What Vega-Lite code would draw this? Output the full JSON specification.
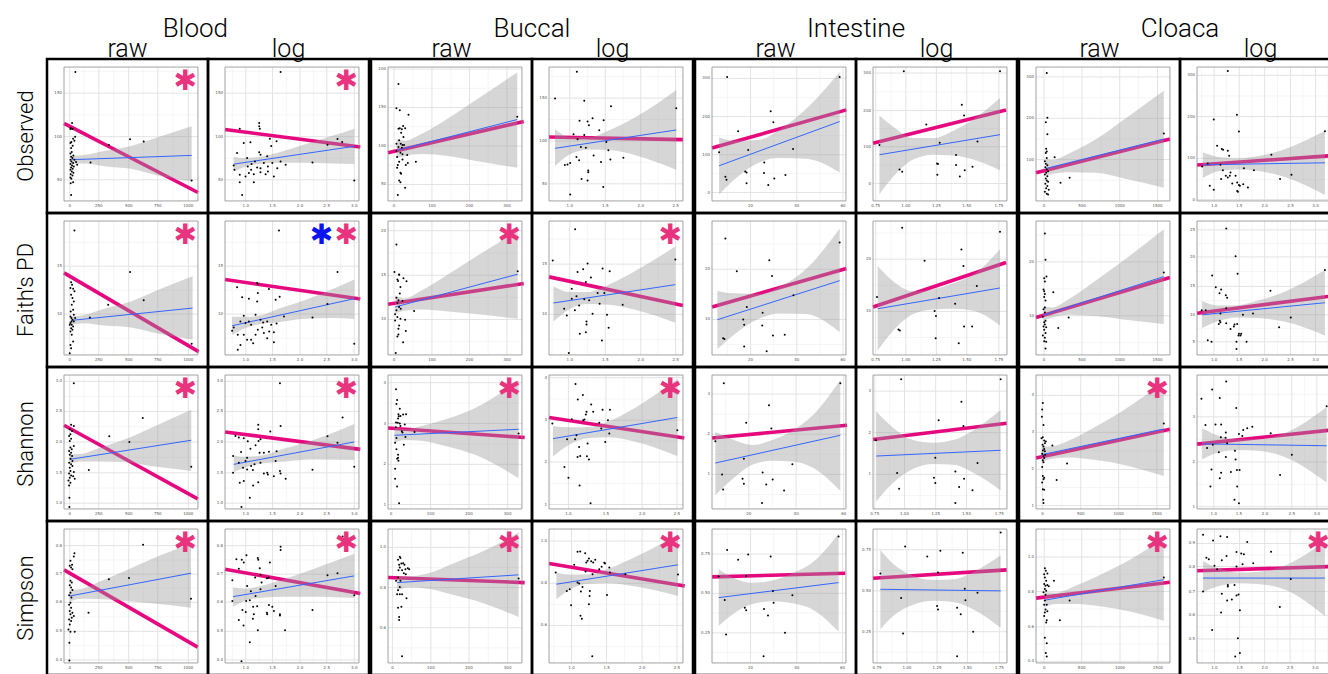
{
"$schema":"https://vega.github.io/schema/vega-lite/v6.json",
"padding":{"left":14,"top":16,"right":0,"bottom":0},
"background":"white",
"spacing":-2,
"config":{
"view":{"stroke":"black","strokeWidth":2.5},
"mark":{"invalid":"break-paths-show-domains"},
"header":{"labelFont":"Roboto","titleFont":"Roboto","labelFontSize":25,"titleFontSize":26,"labelFontWeight":300,"titleFontWeight":300,"labelColor":"black","titleColor":"black"},
"headerColumn":{"titlePadding":-15,"labelPadding":-3},
"headerRow":{"labelFontSize":22,"labelPadding":9},
"text":{"font":"DejaVu Sans"}
},
"datasets":{"d":[
{"t":"Blood","s":"raw","m":"Observed","st":["p"],
"px":[8.5,6,5,6.3,4.8,8.3,6.8,5.5,7.8,4.8,6.5,5.3,5.8,4.8,7,5.3,6.3,4.8,7.8,5.5,6.8,4.8,6,7.3,5.3,6.5,4.8,5.8,7,5,6.3,4.8,5.5,6.8,5,5.3,9,9.8,19.8,33.5,49.3,59.5,95.3],
"py":[96.3,58.3,54.5,53.8,53.8,48,46.5,44,45,43.3,41.3,39.5,36.5,35.5,34,33,32,30.8,30.8,29.5,28.3,27.5,26.5,25.8,25,24,23.3,22,21,20,19,17.5,16.5,14,13.3,4.5,29,27,28.8,41.8,46,44.3,15.3],
"bx":[5.5,15,30,50,70,95.3],"blo":[27.5,28,26,24,19,14.5],"bhi":[33.8,34.3,37.3,41,47.5,55.8],
"fx":[5.5,95.3],"fy":[30.8,34],"kx":[0,100],"ky":[58,6.3],
"xt":[4.3,26,48.3,70,92.8],"xl":["0","250","500","750","1000"],"gx":[15.1,37.1,59.1,81.4],
"yt":[15.8,48,80.5],"yl":["50","100","150"],"gy":[31.9,64.3,96.8]},
{"t":"Blood","s":"log","m":"Observed","st":["p"],
"px":[41.5,11,25.5,25.5,26,84,87.5,76.5,33.5,19,14,34.5,38.5,9,25.5,26.5,31.5,16.5,22.3,19.8,17,24,29,35.3,41.5,45.3,39,32,6.5,7,11,15.3,11,17.8,21.5,26.5,32,36.5,21.5,12.8,30.3,65.3,96.5,26.5,19.5],
"py":[96.3,54,58.3,55.8,54,46.3,44,42,46.5,43.8,43.3,41,44.5,35.8,36.3,34.5,33.3,32,29.5,27.5,25.8,25,28.3,28.3,29.5,27,24.5,25.8,26.5,23.3,19.5,18.3,14,20.8,20,21.5,22,18.3,14,4.5,20,28.8,15.3,24.5,23.3],
"bx":[6.5,15,25,40,60,80,96.5],"blo":[22,25.5,27.6,28.6,28.5,28,27.5],"bhi":[33,32,32.8,36.2,42.3,48.6,54],
"fx":[6.5,96.5],"fy":[27.5,40.8],"kx":[0,101],"ky":[53.4,40.3],
"xt":[15.5,35.5,56,76,96.5],"xl":["1.0","1.5","2.0","2.5","3.0"],"gx":[5.5,25.5,45.8,66,86.3],
"yt":[15.8,48,80.5],"yl":["50","100","150"],"gy":[31.9,64.3,96.8]},
{"t":"Blood","s":"raw","m":"Faith's PD","st":["p"],
"px":[7.8,5.3,6,6.8,4.8,7.8,5.3,6.3,7.3,5.8,6.8,5,4.8,5.5,6.3,7.3,4.8,5.8,6.8,5.3,6.3,4.8,5.8,6.8,4.8,5.3,4.3,5.5,4.3,7.3,8.3,19.3,33,49.3,59.5,95.3],
"py":[93,54.3,52.5,49.5,50,47.5,45,42.5,40,37.5,33.8,32.5,28.8,27.5,26.3,25,23.8,22.5,21.3,20,18.8,17.5,15,10,7.5,5,1.3,25,22.5,30,27.5,28,37.5,62,40.8,8.3],
"bx":[5.5,15,30,50,70,96],"blo":[22.8,23.7,22,20.5,16,11.3],"bhi":[28.7,29.9,34.5,40,48.5,58.8],
"fx":[5.5,96],"fy":[25.8,35],"kx":[0,100.5],"ky":[61.3,2.5],
"xt":[4.3,26,48.3,70,92.8],"xl":["0","250","500","750","1000"],"gx":[15.1,37.1,59.1,81.4],
"yt":[30.5,66.3],"yl":["10","15"],"gy":[12.6,48.4,84.1]},
{"t":"Blood","s":"log","m":"Faith's PD","st":["bp"],
"px":[40.3,9,24,24.5,32.8,12.8,17.8,24.5,24,37.8,40.8,84,76.5,65.3,14,11.5,15.3,19.5,26.5,28.5,31.5,34.5,38.5,44,6.5,5.3,9.5,14,16.5,19.5,22.8,24.5,27.8,29,33,36.5,11.5,9.5,36.5,21,31.5,96.5,17.8,22.8],
"py":[93,50.5,53.8,53,49.3,43,42,46.3,40,41.3,43.5,62,38,28,29.3,25,23.8,22.5,26.3,24.3,25,22.5,23.5,28.8,20.5,18,15,15,11.3,11.3,15,18.8,20.5,16.3,17.5,17,7.5,3.8,9.5,8.8,12.5,8.3,25,30],
"bx":[5.3,15,25,40,60,80,96.5],"blo":[15,20,23,24.5,27,27.5,26.8],"bhi":[28.5,28.5,29.2,34.5,41,49,56.3],
"fx":[5.3,96.5],"fy":[21.8,42],"kx":[0,101],"ky":[56.3,41.8],
"xt":[15.5,35.5,56,76,96.5],"xl":["1.0","1.5","2.0","2.5","3.0"],"gx":[5.5,25.5,45.8,66,86.3],
"yt":[30.5,66.3],"yl":["10","15"],"gy":[12.6,48.4,84.1]},
{"t":"Blood","s":"raw","m":"Shannon","st":["p"],
"px":[7.3,5.3,7.3,4.3,6,4.8,3.8,5.3,4.3,4.8,5.8,3.8,5.3,4.3,6,4.8,3.8,5.3,4.3,6.3,4.8,7.3,3.8,5.3,4.3,6.8,8,3.3,4.8,3.8,4,4,6.3,7.3,18.5,33.8,48.8,58.8,95],
"py":[93.8,62.8,62,59.5,58.3,55.8,54.5,52.5,50.8,45.8,44.5,43.3,42,40.5,39.5,37.5,34.5,33.3,30.8,32,28.3,27.5,26.5,25,23.3,24.5,22.5,21.3,19.5,17.5,8.3,1.5,35.8,47,29,54.3,50,68,31.5],
"bx":[4.3,12,25,45,65,95],"blo":[34,35.5,35.5,35,32,28.3],"bhi":[40.8,41,45,51.8,60.5,74],
"fx":[4.3,95],"fy":[37,51.3],"kx":[0,99.8],"ky":[62.5,7.5],
"xt":[4.3,26,48.3,70,92.8],"xl":["0","250","500","750","1000"],"gx":[15.1,37.1,59.1,81.4],
"yt":[4.3,27,50,72.8,95.3],"yl":["1.0","1.5","2.0","2.5","3.0"],"gy":[15.6,38.5,61.4,84]},
{"t":"Blood","s":"log","m":"Shannon","st":["p"],
"px":[41,87.8,41.5,24.8,33.8,24.8,7.8,14,10.3,17,25,26.5,22.8,19,25.8,29,32.8,38.5,12,6,16.5,15.3,10.3,19.5,22,26.5,37.8,76.5,84,65.3,96.5,6,13.5,16.5,20.8,29,32,36.5,41.5,41,45.3,11,14,21,24.8,31.5,12.3,18.5],
"py":[93.8,68.3,62,62.8,57.8,59.5,54.5,52.8,53.3,50.5,50.8,52,47.5,45,42,42,42.8,43,42.5,39.5,38.3,35.8,34.5,32,33.3,34.5,35.8,54.3,49.5,29.3,31.5,27,30.8,29.5,29,26.5,25.8,24.5,26.5,28.3,22.5,19.5,20.8,17.5,20,27,1.5,8.3],
"bx":[6.5,15,25,45,65,96.5],"blo":[27.5,31,33.5,35.5,37,36.5],"bhi":[40,39,39.5,45.3,51.2,63.5],
"fx":[6.5,96.5],"fy":[33.3,50],"kx":[0,101],"ky":[57.5,44.5],
"xt":[15.5,35.5,56,76,96.5],"xl":["1.0","1.5","2.0","2.5","3.0"],"gx":[5.5,25.5,45.8,66,86.3],
"yt":[4.3,27,50,72.8,95.3],"yl":["1.0","1.5","2.0","2.5","3.0"],"gy":[15.6,38.5,61.4,84]},
{"t":"Blood","s":"raw","m":"Simpson","st":["p"],
"px":[59,7.8,7.3,4.8,6,4.3,5.3,6.3,4.8,5.8,4.3,5.3,6.3,4.8,3.8,5.5,4.8,3.8,5.3,4.3,6.3,4.8,7.3,3.8,5.3,4.3,3.3,4.8,8,4,4,5.8,18.3,33.5,48.5,94.8],
"py":[88.3,82,79.5,76.3,73.3,72.5,71.3,70,61.3,60,58,56.3,54.5,52.5,50.5,48.8,45,43.5,41.3,38.8,37.5,36.3,35,32.5,31.3,28.8,25,23.3,23.3,15,1.8,33.8,37.5,62.5,63.5,48],
"bx":[4.3,12,25,45,65,94.8],"blo":[45.5,48,47.8,46.5,44.5,41.3],"bhi":[54.5,55,60,68.5,77.5,88.8],
"fx":[4.3,94.8],"fy":[50,67],"kx":[0,99.8],"ky":[69.5,11.8],
"xt":[4.3,26,48.3,70,92.8],"xl":["0","250","500","750","1000"],"gx":[15.1,37.1,59.1,81.4],
"yt":[2.3,23.6,45.3,66.3,87.6],"yl":["0.4","0.5","0.6","0.7","0.8"],"gy":[12.9,34.4,55.8,76.9,98.3]},
{"t":"Blood","s":"log","m":"Simpson","st":["p"],
"px":[87.8,41.5,41.5,8.5,12.5,16,10.3,14,24.5,24.8,26,33.5,5.5,22.5,26.5,31.3,32.5,27.3,26.5,16.5,19.3,22.8,18.5,15.8,13,15.5,21,24,21.5,20.8,31.3,31.5,32.8,35.3,36.5,41,41,37.8,44.8,24.5,10.3,13.8,18.5,12.3,5.5,65.3,76.5,84,96.5],
"py":[94.5,86.8,84.3,77.5,77,80.5,70.3,75,78.3,77,70.8,75,61.8,63.8,65.8,63.3,63.8,60,55,57.5,53.5,50,46.8,46.3,39.5,38,42,42.3,36.3,33,37.5,36.3,43.3,42,38.8,36.3,35.5,57.5,24.5,24.5,32,28,15.5,1.3,46.3,39.5,65.5,67,50.5],
"bx":[6,15,25,45,65,96.5],"blo":[42,46.5,48.5,49.5,49.5,48.5],"bhi":[56.3,55.5,57,62.9,69.7,81.5],
"fx":[6,96.5],"fy":[49.5,65],"kx":[0,101],"ky":[70,51.8],
"xt":[15.5,35.5,56,76,96.5],"xl":["1.0","1.5","2.0","2.5","3.0"],"gx":[5.5,25.5,45.8,66,86.3],
"yt":[2.3,23.6,45.3,66.3,87.6],"yl":["0.4","0.5","0.6","0.7","0.8"],"gy":[12.9,34.4,55.8,76.9,98.3]},
{"t":"Buccal","s":"raw","m":"Observed","st":[""],
"px":[7.8,6.3,8.8,15.3,8.8,10.3,7.8,11.3,12.8,9.8,11.5,8.3,6.3,10.8,9.5,12,7.8,10.3,9.3,6.8,14.3,10.8,8.3,13.3,14.8,7.3,6.8,9.3,9.8,8.3,9.3,12.8,7.3,20.8,96.5,10.8,6.3],
"py":[87.3,69.3,67.8,64.3,54.3,53.5,54,56,54.3,51,47.8,45.3,42.8,41.8,42.8,41.8,40.3,39.8,36,32.8,34.3,31,29.3,26.8,28.3,26.8,24.8,21,20.3,15.3,14,9.8,4.5,29.3,62.8,34.8,37.3],
"bx":[6.3,12,25,45,65,96.5],"blo":[31.8,33.5,35,33.5,30,24.8],"bhi":[46,44.9,50,61.7,75,96],
"fx":[6.3,96.5],"fy":[37.8,60.8],"kx":[0,101.3],"ky":[36,59.3],
"xt":[4.5,32.8,60.8,88.8],"xl":["0","100","200","300"],"gx":[18.6,46.8,74.8],
"yt":[12.3,41,69.8,98.5],"yl":["50","100","150","200"],"gy":[26.6,55.4,84.1]},
{"t":"Buccal","s":"log","m":"Observed","st":[""],
"px":[20.8,4.5,26.3,46.3,95,22.8,28.8,32.5,40.8,29.8,37.5,18.3,21.3,26.3,42.8,23.8,27.5,44.3,33.3,20.5,22.5,13.8,15.8,38.8,45.8,55.5,29.3,29.3,24.3,28.8,40.5,15.8,11.8],
"py":[96.5,76.5,74.8,70.8,69.3,59.8,59.3,61.8,60.3,56.5,52.8,49.8,46,49.3,44,40.3,39.8,37.8,34,32.8,30.3,27.3,28.3,29,31,32.3,22.8,21.5,16.3,15.3,10.5,4.8,26.8],
"bx":[4.5,15,30,45,65,95],"blo":[26,34.5,38.5,38,34,23.3],"bhi":[53.5,48,47.7,52.8,62.8,82.8],
"fx":[4.5,95],"fy":[39.3,53],"kx":[0,100],"ky":[47.8,45.8],
"xt":[15.5,42,68.5,94.5],"xl":["1.0","1.5","2.0","2.5"],"gx":[2.3,28.8,55.3,81.5],
"yt":[12.8,44.8,76.8],"yl":["50","100","150"],"gy":[28.8,60.8,92.8]},
{"t":"Buccal","s":"raw","m":"Faith's PD","st":["p"],
"px":[6.3,4.8,8.3,7,7.5,8.3,11.5,13.8,9.3,8.8,6.3,7.8,7,8.3,6.3,9.5,10.8,19.5,5.3,7,9.3,12.8,5.3,8.3,7.8,13.3,7.8,7,11.3,5.8,96.8],
"py":[82.5,62,60,56.3,55.3,59.8,57.3,55,50.8,45.8,42.8,40.8,38.8,35.8,33.3,34.5,40.3,32.8,30.3,28.3,27,26.3,25.8,22,19.5,17.8,15.3,13.8,9.5,1.5,62.5],
"bx":[5.3,12,25,45,65,96.8],"blo":[30.8,33,34,32.5,30.5,27],"bhi":[44.5,42.2,48.2,60.3,73,92.8],
"fx":[5.3,96.8],"fy":[35.8,60.3],"kx":[0,101.3],"ky":[37.8,53.3],
"xt":[4.5,32.8,60.8,88.8],"xl":["0","100","200","300"],"gx":[18.6,46.8,74.8],
"yt":[26.5,59.5,92.8],"yl":["10","15","20"],"gy":[10,43,76.1]},
{"t":"Buccal","s":"log","m":"Faith's PD","st":["p"],
"px":[19.5,2.8,25.5,21.3,28.8,31.3,40,45.3,94.3,27.5,17,36.3,41.3,20.5,26.3,22.5,30,37.8,55,11.3,19.3,13.3,32.5,43.3,44.5,28,28,23,27.5,39.5,14.8,17],
"py":[93.8,70.5,64,62,68.3,57.8,64.5,62.5,71.3,54.5,49.5,46.3,46.3,43.8,41.5,37,40.8,38.3,37.5,34.5,33.3,29.5,30.8,30,20.3,25,22.8,15.8,17,10.8,1.5,42],
"bx":[3.3,15,28,45,65,94.3],"blo":[25,34,38,37.5,33.5,24],"bhi":[51.3,47,47,52.7,63,81],
"fx":[3.3,94.3],"fy":[38.8,52.5],"kx":[0,100],"ky":[58.3,37],
"xt":[15.5,42,68.5,94.5],"xl":["1.0","1.5","2.0","2.5"],"gx":[2.3,28.8,55.3,81.5],
"yt":[30.3,67.8],"yl":["10","15"],"gy":[11.5,49,86.5]},
{"t":"Buccal","s":"raw","m":"Shannon","st":["p"],
"px":[6,6.8,6.3,8.8,7.8,8,9.3,11.3,13.5,7.5,6,7.3,8.8,12.5,9.3,5.8,10.3,10.8,13,6.3,11.8,5.3,6.3,7.5,6.8,7.5,7.8,5.3,5.3,6.8,8.3,19.8,97.5],
"py":[89.3,81.3,78.3,74.8,70.8,69.3,69.5,70.5,70.8,67.5,64.5,64.3,63.8,63,62,61,58,57,53.8,53,48,49.5,44.5,40.5,37.5,38.3,36,30,22.5,16.8,4.3,57.5,56.3],
"bx":[4.8,12,25,45,65,97.5],"blo":[49.3,51.5,51,46.5,40.5,23],"bhi":[61.3,59.5,62,67.5,75.3,96.3],
"fx":[4.8,97.5],"fy":[55,59.5],"kx":[0,102],"ky":[60.5,53.3],
"xt":[2.3,31.8,60.5,89.3],"xl":["0","100","200","300"],"gx":[17,46.2,74.9],
"yt":[3.3,33.3,63.8,94.3],"yl":["1","2","3","4"],"gy":[18.3,48.5,79]},
{"t":"Buccal","s":"log","m":"Shannon","st":["p"],
"px":[19.8,21.5,25.3,31.5,33,28,27.5,26.5,25.5,17,40,45.5,44,37.5,39,45,42,2.5,13.5,19.5,20.5,22.5,21.3,23.3,28.3,29.8,28.8,11.5,14.5,22.8,31,95.8],
"py":[93.3,81.8,85,78,72.5,72.5,70.5,66.8,66.3,67,74,74,66.3,64.3,60,56.3,50,63.8,52,52,55,46.3,38.8,39.5,39.3,37,48.8,31.3,23.3,17.5,4.3,58.8],
"bx":[3,15,30,45,65,95.8],"blo":[39.3,48,53,53.5,50,39.5],"bhi":[61.8,61,61.2,65.7,76,97],
"fx":[3,95.8],"fy":[52.5,68.3],"kx":[0,101],"ky":[68.3,53],
"xt":[14.5,42.5,69.5,95.5],"xl":["1.0","1.5","2.0","2.5"],"gx":[1,28.5,56,82.5],
"yt":[3.3,35,66.3,98],"yl":["1","2","3","4"],"gy":[19.1,50.6,82.1]},
{"t":"Buccal","s":"raw","m":"Simpson","st":["p"],
"px":[8.8,9.3,7.5,10,11.3,8.3,12.3,8.8,13,10.5,14.8,7.8,13.3,11.8,15.8,7.5,9.3,8.8,7.5,8.8,10.5,6.8,13.8,7.5,10,8.3,8.3,10.5,97.5,6],
"py":[79.3,78.3,77,74.3,74.5,73.3,73.3,71.3,70,69.3,70.8,69.3,66.3,67,70,63.8,61.3,56.8,54.3,51.3,51.3,51.3,48.3,41.3,42,34.3,32,5,63,61.3],
"bx":[6.8,15,30,50,70,97.5],"blo":[53.8,56.5,55.5,50.5,45,34.3],"bhi":[65,64.5,67,74.9,83,97.5],
"fx":[6.8,97.5],"fy":[60,65.8],"kx":[0,102],"ky":[63.8,60],
"xt":[3.3,32,60.5,89.3],"xl":["0","100","200","300"],"gx":[17.6,46.2,74.9],
"yt":[26.3,56.3,86.3],"yl":["0.6","0.8","1.0"],"gy":[11.3,41.3,71.3]},
{"t":"Buccal","s":"log","m":"Simpson","st":["p"],
"px":[5,18.8,21.3,23.3,27,27.8,28.8,29.8,31.5,33,34.5,37.5,39.3,41.3,41.8,45,45.5,27.3,32.5,21.3,22.5,25,13.3,15.5,23.8,30.5,30.3,16.5,43.3,29.8,23.5,24.5,32.3,96.3,57],
"py":[67.5,73.3,83,83.3,82,75,76.3,78,76,75,77,70,71.8,74.8,74.3,71.3,67.5,68.3,66.3,60,59.3,56.8,53.8,55,53.3,53.8,50,43,50.8,43.8,35.3,33,5,66,66.3],
"bx":[5.5,15,30,45,65,96.3],"blo":[47.5,54.5,59.2,59.5,57,50],"bhi":[67.5,66,66.2,70.7,79.5,96],
"fx":[5.5,96.3],"fy":[58.8,73.3],"kx":[0,101.3],"ky":[74.3,57.5],
"xt":[16.8,43,69.5,95.5],"xl":["1.0","1.5","2.0","2.5"],"gx":[3.5,29.9,56.3,82.5],
"yt":[28,59.5,91],"yl":["0.6","0.8","1.0"],"gy":[12.3,43.8,75.3]},
{"t":"Intestine","s":"raw","m":"Observed","st":[""],
"px":[11.3,95.3,43.8,45.8,19.5,27,5.3,60.5,39,24.8,25.8,10,10.8,38.8,54.8,46.5,25.8,42],
"py":[92.5,92.5,67,58.8,52,38,36.3,38.8,28.8,22,21.3,18,15.8,20.8,19.3,16.8,13.3,12],
"bx":[5.3,15,35,50,70,95.3],"blo":[5,14.5,28.6,32,31.5,21.3],"bhi":[47.5,45,45.6,53,68.5,96.3],
"fx":[5.3,95.3],"fy":[26.3,59.3],"kx":[0,100.3],"ky":[39.5,68],
"xt":[28.8,63.3,97.8],"xl":["20","40","60"],"gx":[11.5,46,80.5],
"yt":[6.3,34.5,63,91.5],"yl":["0","100","200","300"],"gy":[20.4,48.8,77.3]},
{"t":"Intestine","s":"log","m":"Observed","st":[""],
"px":[23,94.8,66.3,68,39.8,78,4.8,49.8,62,19.8,21.8,47.8,48.5,62,74.3,68.5,48,64.8],
"py":[96.8,96.8,71.8,63.8,57,44.3,41.8,43.5,34.3,23.5,21.8,28,27.5,26.8,25.5,23,19.5,18.3],
"bx":[4.8,15,30,45,60,75,94.8],"blo":[5,18,31,34.5,34,31,23],"bhi":[63.8,55.5,47,47,52.5,61,76.8],
"fx":[4.8,94.8],"fy":[34.5,49.5],"kx":[0,99.3],"ky":[43,68],
"xt":[2,24.5,47.3,70,94],"xl":["0.75","1.00","1.25","1.50","1.75"],"gx":[13.3,35.9,58.6,82],
"yt":[13,40.5,67.5,95.5],"yl":["0","100","200","300"],"gy":[26.8,54,81.5]},
{"t":"Intestine","s":"raw","m":"Faith's PD","st":[""],
"px":[10,95.3,42.8,44.8,18.5,26,60.8,37.8,23.3,24,8.3,9.3,37.5,45.5,54.3,24,40.8],
"py":[87,84,70.8,59,62.5,35.8,44.5,31.5,26.5,22.5,12.5,12,22,14.5,15,6.3,2.8],
"bx":[4,15,35,50,70,95.3],"blo":[4.5,14,27,31,30.5,17],"bhi":[48,46,45.5,50.5,64,94.5],
"fx":[4,95.3],"fy":[26.3,55.5],"kx":[0,100.3],"ky":[35.8,64.5],
"xt":[28.8,63.3,97.8],"xl":["20","40","60"],"gx":[11.5,46,80.5],
"yt":[26.5,64],"yl":["10","20"],"gy":[7.8,45.3,82.8]},
{"t":"Intestine","s":"log","m":"Faith's PD","st":[""],
"px":[21.8,94.8,66,67.5,38.5,77.5,3,49.3,61.3,46,47,68,74,19,20,46.8,64],
"py":[95,92,78.8,66.5,70.3,51.5,43.3,42.5,38.3,32.8,29,21.3,21.3,19,18.3,12.5,8.8],
"bx":[3.5,15,30,45,60,75,94.8],"blo":[3.3,18,30.5,34,34.5,33,22],"bhi":[66.5,55,47.5,49,53.5,60,79],
"fx":[3.5,94.8],"fy":[34.5,50],"kx":[0,99.3],"ky":[35.8,69],
"xt":[2,24.5,47.3,70,94],"xl":["0.75","1.00","1.25","1.50","1.75"],"gx":[13.3,35.9,58.6,82],
"yt":[32.5,71.5],"yl":["10","20"],"gy":[13,52,91]},
{"t":"Intestine","s":"raw","m":"Shannon","st":[""],
"px":[8.8,95.8,42.5,25.5,44.3,2.5,23.8,60,37.8,7.5,22.8,23.8,45.3,40.5,8.3,53.8,37.3],
"py":[93.8,93.8,77.5,64.3,60,50.5,37.5,33.3,27.3,25.8,22.5,18.8,22,18.3,14.5,13.8,4.5],
"bx":[2.5,15,30,45,60,75,95.8],"blo":[10.5,22,33,36,35.5,31,13.5],"bhi":[57.5,52,47.8,51.4,58.5,69.8,96.3],
"fx":[2.5,95.8],"fy":[34.3,55],"kx":[0,100.8],"ky":[53,62.5],
"xt":[27.5,62.8,98.3],"xl":["20","40","60"],"gx":[10,45.1,80.5],
"yt":[25.8,55.8,85.8],"yl":["1","2","3"],"gy":[10.8,40.8,70.8]},
{"t":"Intestine","s":"log","m":"Shannon","st":[""],
"px":[21,95.3,66,49,67.5,2.3,46.5,78,18,61.5,45.5,68,46.5,64.3,19.5,74.3,61.5],
"py":[96.8,96.8,80,66.3,62,51.3,38.3,34.3,26.8,28,23.3,22.5,19.3,16.3,15,14,4.5],
"bx":[2.3,15,30,45,60,75,95.3],"blo":[5.5,19.5,30,33.5,33,27,13.8],"bhi":[73,60.7,51.5,49.5,51.4,58.8,73.8],
"fx":[2.3,95.3],"fy":[39.5,43.8],"kx":[0,99.8],"ky":[51.8,64],
"xt":[1.3,23.5,46.8,69.8,94.3],"xl":["0.75","1.00","1.25","1.50","1.75"],"gx":[12.4,35.2,58.3,82],
"yt":[25.8,57,88],"yl":["1","2","3"],"gy":[10.1,41.4,72.5]},
{"t":"Intestine","s":"raw","m":"Simpson","st":[""],
"px":[11.3,94.5,27,19.5,43.8,5,25.5,45.5,9.5,60,46,24.5,25.5,38.8,41.8,10.5,54.5,38.5],
"py":[84.3,94.5,81,77,79.5,64.5,65,53.8,47,50.5,45,41.3,39.3,40.3,35.5,21.3,22.5,5],
"bx":[5,15,30,45,60,75,94.5],"blo":[27.5,36,44,46,44.5,40,23.5],"bhi":[70,64,59.8,61.5,66.9,75,96.5],
"fx":[5,94.5],"fy":[48.8,60],"kx":[0,99.5],"ky":[64.3,67],
"xt":[28.8,63.3,97.5],"xl":["20","40","60"],"gx":[11.5,46,80.4],
"yt":[22.5,52,81.3],"yl":["0.25","0.50","0.75"],"gy":[7.8,37.3,66.6,96]},
{"t":"Intestine","s":"log","m":"Simpson","st":[""],
"px":[95.3,24,50.3,67,40.5,5.5,48.5,68.5,21,69,78,47.8,48.5,62.8,65.5,22.5,74.8,62.8],
"py":[97.5,87,83.8,82.3,79.5,66.8,67.5,55.5,48.5,46.8,52.5,42.5,40,41.3,36.3,22,23.3,5],
"bx":[5.5,15,30,45,60,75,95.3],"blo":[25,35,43.5,46.5,45.5,40,26.3],"bhi":[84.3,74,65,62,62.5,68,80.5],
"fx":[5.5,95.3],"fy":[55,53.8],"kx":[0,99.8],"ky":[63.3,69.5],
"xt":[3,25.3,47.8,70.5,94.3],"xl":["0.75","1.00","1.25","1.50","1.75"],"gx":[14.1,36.5,59.1,82.4],
"yt":[23.3,53.8,84.5],"yl":["0.25","0.50","0.75"],"gy":[8,38.5,69.1]},
{"t":"Cloaca","s":"raw","m":"Observed","st":[""],
"px":[8,8.5,7.3,8.5,7.6,8,7.3,8,13.9,7.3,8.5,7,8,9,7.6,6.6,8.5,7.3,8,9,7,8.5,7.6,9.5,6.6,8,9,6.6,18.3,25.1,95.4],
"py":[95.5,62.2,58.8,49.9,39,37,35.8,32.1,32.6,27.7,26.7,25.2,23.5,22.2,21,19.8,18.5,16.8,15.3,14.3,12.8,11.1,9.4,8.4,6.9,5.4,4.9,29.6,13.6,17.3,50.4],
"bx":[7.3,12,25,45,65,95.4],"blo":[18.5,20.2,21.5,21,17,9.9],"bhi":[31.6,30.6,35.7,46.2,60.2,82.2],
"fx":[7.3,95.4],"fy":[24.2,46.2],"kx":[0,100],"ky":[21,46.2],
"xt":[6,34.3,62.5,90.7],"xl":["0","500","1000","1500"],"gx":[20.2,48.4,76.6],
"yt":[30.9,61.7,92.6],"yl":["100","200","300"],"gy":[15.5,46.3,77.2]},
{"t":"Cloaca","s":"log","m":"Observed","st":[""],
"px":[23,29.8,12.5,31.3,15,18.5,19.5,23,24,3.8,8,17.5,19.3,18,23,24.5,28.8,30,31.3,32,34.5,30,30.5,38,26.3,9.5,12.5,35,42.5,55.5,62,70.5,95.5,25,21.5],
"py":[97,64.3,60.8,51.8,41.3,38.8,38.3,37.5,33.8,25.8,28,27,23,16.3,17.5,18.8,18.8,13.8,12,11.3,12.5,7.5,6.8,10,13,11.3,8.3,24.5,23,34.5,16.3,19.5,52,21.3,18.8],
"bx":[4.3,15,30,45,65,95.5],"blo":[17,22,23.5,22.5,18,4.5],"bhi":[36.3,33,31.7,33.3,38.5,52.5],
"fx":[4.3,95.5],"fy":[27,28.5],"kx":[0,100],"ky":[26.8,33.8],
"xt":[12.8,31.5,50.5,69.8,88.5],"xl":["1.0","1.5","2.0","2.5","3.0"],"gx":[3.4,22.1,41,60.1,79.1,97.9],
"yt":[1,31.8,63,93.8],"yl":["0","100","200","300"],"gy":[15.9,47.4,78.4]},
{"t":"Cloaca","s":"raw","m":"Faith's PD","st":[""],
"px":[6.6,7.1,6.1,6.6,5.6,6.1,6.6,6.1,7.1,5.6,6.6,5.1,7.1,6.1,6.6,5.6,7.6,6.1,7.1,5.1,6.6,6.1,7.6,7.1,7.8,12.9,16.6,24.4,95.4,6.6],
"py":[90.7,71,57.3,54.9,48.8,47.6,45.6,43.2,40.7,34.1,31.7,28.5,25.6,24.4,22.7,21.2,20.7,18.8,16.3,14.6,12.9,10.2,9.8,4.9,58.5,46.8,20.2,28,61.5,35.4],
"bx":[5.6,12,25,45,65,95.4],"blo":[25.6,28,30,29,26.5,23.2],"bhi":[36.6,35.5,42,55.8,70.3,93.9],
"fx":[5.6,95.4],"fy":[29.8,58.5],"kx":[0,100],"ky":[28,57.8],
"xt":[6,34.3,62.5,90.7],"xl":["0","500","1000","1500"],"gx":[20.2,48.4,76.6],
"yt":[29.3,69.5],"yl":["10","20"],"gy":[9.2,49.4,89.6]},
{"t":"Cloaca","s":"log","m":"Faith's PD","st":[""],
"px":[21.8,28.8,30.3,11.3,14,18,16.8,21.5,22.5,54.8,3.5,6.5,21.8,17.5,34.3,41.8,17,16.3,17.5,21.8,25,27.5,28,30,31,31.3,32.5,33,37,29.5,29.5,8,10.8,61.3,70,95.5],
"py":[94.4,73.7,60.7,59.3,50.5,48.8,46.1,44.6,42.7,48,33.4,33.4,34.9,31,30,31,25.6,23.2,24.4,23.7,19.3,21.2,22.7,23.2,14.6,15.9,14.6,15.9,9.8,9.8,4.4,11,9.8,20.7,28,63.4],
"bx":[3.8,15,30,45,65,95.5],"blo":[20.2,25,28,27.5,25,14.6],"bhi":[40.2,37,37.2,40.5,47,63.4],
"fx":[3.8,95.5],"fy":[30,39],"kx":[0,100],"ky":[31.2,43.9],
"xt":[12.8,31.5,50.5,69.8,88.5],"xl":["1.0","1.5","2.0","2.5","3.0"],"gx":[3.4,22.1,41,60.1,79.1,97.9],
"yt":[9.8,30,51.2,73.2,93.4],"yl":["5","10","15","20","25"],"gy":[19.9,40.6,62.2,83.3]},
{"t":"Cloaca","s":"raw","m":"Shannon","st":["p"],
"px":[5.1,4.6,4.4,5.6,4.1,5.1,6.1,7.3,6.6,4.9,5.6,6.1,5.1,6.6,4.6,5.6,6.1,5.1,5.6,4.6,5.1,6.1,5.6,4.6,5.1,6.1,5.4,5.6,12.2,15.4,23.2,95.4,6.8],
"py":[79.1,74.2,68.8,62.7,52.8,53.6,51.1,50.4,49.1,47.9,46.7,44.7,43.7,43,41.3,39.3,38.1,36.4,34.9,31.4,24.6,23.3,22.1,19.7,14.7,14.3,6.9,4.4,47.4,21.6,33.9,63.9,40.5],
"bx":[4.1,12,25,45,65,95.4],"blo":[34.4,37.5,38.5,36.5,33,24.6],"bhi":[46.7,46.9,51.3,61.7,73.6,94.6],
"fx":[4.1,95.4],"fy":[40.5,59.7],"kx":[0,100],"ky":[38.1,59.5],
"xt":[4.9,33.4,61.7,90.2],"xl":["0","500","1000","1500"],"gx":[19.2,47.6,76],
"yt":[2.5,29.5,57.2,84.8],"yl":["1","2","3","4"],"gy":[16,43.4,71,98.6]},
{"t":"Cloaca","s":"log","m":"Shannon","st":[""],
"px":[21.8,11.3,3.3,17,29.3,96.8,6.3,13.8,18,34.5,37.5,41.3,55,17.8,21.3,31.3,33.8,21.5,22.5,11.8,7.5,16.3,21.5,28.3,28.8,70.8,10.8,18,25.3,29.8,31.8,62,17,10,30,28,31.3],
"py":[95.1,89.2,82.3,82.8,75.4,76.7,62.7,63.1,63.1,59,60.2,61.4,56.5,53.6,53.1,56,54.5,57,49.1,47.9,45.5,42.3,38.8,43.5,36.9,40.5,29.5,27,27.5,29,29,25.3,22.9,16.7,16.7,6.9,4.2],
"bx":[3.8,15,30,45,65,96.8],"blo":[36.9,42,44,43.5,39,19.7],"bhi":[60.2,55,52,52,56.5,76.2],
"fx":[3.8,96.8],"fy":[48.6,47.2],"kx":[0,101.3],"ky":[48.4,59],
"xt":[12.5,31.3,50.8,70.8,89.5],"xl":["1.0","1.5","2.0","2.5","3.0"],"gx":[3.1,21.9,41,60.8,80.2,99],
"yt":[1.7,35.1,68.8],"yl":["1","2","3"],"gy":[18.4,52,85.6]},
{"t":"Cloaca","s":"raw","m":"Simpson","st":["p"],
"px":[6.6,7.3,6.1,8.5,6.6,7.6,6.1,7.1,8.5,9.5,6.6,5.6,7.6,7.1,6.6,6.1,8,7.1,8.5,6.6,6.1,8,7.6,6.6,8,7.3,8,13.4,25.1,17.8,95.4],
"py":[70.8,68.8,66.3,66.8,63.9,61.4,59,57.7,58.2,57.2,55.3,52.8,54,50.9,46.7,43.5,43.5,40,38.6,37.6,35.1,31.9,30.2,18.9,14.7,7.4,4.9,61.4,46.7,31.9,63.9],
"bx":[6.6,15,30,50,70,95.4],"blo":[41.8,44,44,42,38.5,31.5],"bhi":[52.8,52.5,57.8,66.8,77,92.9],
"fx":[6.6,95.4],"fy":[46.9,62.2],"kx":[0,100],"ky":[48.4,60.2],
"xt":[6.1,34.1,62.7,91],"xl":["0","500","1000","1500"],"gx":[20.1,48.4,76.9],
"yt":[1.2,27,53.3,79.1],"yl":["0.4","0.6","0.8","1.0"],"gy":[14.1,40.2,66.2,92]},
{"t":"Cloaca","s":"log","m":"Simpson","st":["p"],
"px":[4.5,17.5,22.5,37.5,12,7,8.8,22,29.5,33,35,55.3,18.5,13,15,29.5,34,42,4.5,18.5,23,23,28,26,29.5,31,22.5,18,32,11.3,30.5,28.5,32,61.8,70,95.5],
"py":[95.8,94.6,94.1,90.4,91.4,78.6,77.4,79.9,82.8,81.8,81.1,83,76.7,72.5,70,72,73.7,74.4,53.3,51.6,58.2,57,58.2,47.4,50.4,51.1,46.7,37.6,39.3,24.6,18.4,4.9,7.4,41.8,62.7,86.5],
"bx":[4.5,15,30,45,65,95.5],"blo":[52.8,57,59.5,59,55,35],"bhi":[76.2,71,67.5,68,72.5,91],
"fx":[4.5,95.5],"fy":[63.4,63.4],"kx":[0,100],"ky":[68.8,72],
"xt":[13,31.8,50.5,69.5,88.3],"xl":["1.0","1.5","2.0","2.5","3.0"],"gx":[3.6,22.4,41.2,60,78.9,97.7],
"yt":[17.9,35.6,53.3,72,89.2],"yl":["0.5","0.6","0.7","0.8","0.9"],"gy":[9,26.8,44.5,62.7,80.6,98]}
]},
"hconcat":[
{"data":{"name":"d"},"transform":[{"filter":"datum.t==='Blood'"},{"flatten":["px","py","bx","blo","bhi","fx","fy","kx","ky","xt","xl","gx","yt","yl","gy","st"]}],
"bounds":"flush",
"facet":{"row":{"field":"m","type":"nominal","sort":["Observed","Faith's PD","Shannon","Simpson"],"title":null},
"column":{"field":"s","type":"nominal","sort":["raw","log"],"title":"Blood\u00a0\u00a0\u00a0\u00a0\u200b","header":{"labelExpr":"datum.label=='raw' ? 'raw\u00a0\u00a0\u00a0\u00a0\u200b' : 'log\u00a0\u00a0\u00a0\u00a0\u00a0\u00a0\u00a0\u200b'"}}},
"spacing":{"row":0,"column":0},
"spec":{"width":161,"height":154,"layer":[
{"mark":{"type":"rule","color":"#f0f0f0","strokeWidth":0.6},"encoding":{"x":{"field":"gx","type":"quantitative","scale":{"domain":[-12.7,107.5],"nice":false,"zero":false},"axis":null},"y":{"datum":0,"scale":{"domain":[-9,106],"nice":false,"zero":false},"axis":null},"y2":{"datum":100},"opacity":{"condition":{"test":"isValid(datum.gx)","value":1},"value":0}}},
{"mark":{"type":"rule","color":"#f0f0f0","strokeWidth":0.6},"encoding":{"y":{"field":"gy","type":"quantitative","axis":null},"x":{"datum":0,"axis":null},"x2":{"datum":100},"opacity":{"condition":{"test":"isValid(datum.gy)","value":1},"value":0}}},
{"mark":{"type":"rule","color":"#e3e3e3","strokeWidth":1},"encoding":{"x":{"field":"xt","type":"quantitative","axis":null},"y":{"datum":0,"axis":null},"y2":{"datum":100},"opacity":{"condition":{"test":"isValid(datum.xt)","value":1},"value":0}}},
{"mark":{"type":"rule","color":"#e3e3e3","strokeWidth":1},"encoding":{"y":{"field":"yt","type":"quantitative","axis":null},"x":{"datum":0,"axis":null},"x2":{"datum":100},"opacity":{"condition":{"test":"isValid(datum.yt)","value":1},"value":0}}},
{"mark":{"type":"line","color":"#e6087f","strokeWidth":3.6},"encoding":{"x":{"field":"kx","type":"quantitative","axis":null},"y":{"field":"ky","type":"quantitative","axis":null}}},
{"mark":{"type":"area","color":"#999999","opacity":0.4,"interpolate":"monotone"},"encoding":{"x":{"field":"bx","type":"quantitative","axis":null},"y":{"field":"blo","type":"quantitative","axis":null},"y2":{"field":"bhi"}}},
{"mark":{"type":"line","color":"#3366ff","strokeWidth":1},"encoding":{"x":{"field":"fx","type":"quantitative","axis":null},"y":{"field":"fy","type":"quantitative","axis":null}}},
{"mark":{"type":"circle","size":4,"color":"black"},"encoding":{"x":{"field":"px","type":"quantitative","axis":null},"y":{"field":"py","type":"quantitative","axis":null},"opacity":{"condition":{"test":"isValid(datum.px)","value":1},"value":0}}},
{"mark":{"type":"rect","filled":false,"stroke":"#8c8c8c","strokeWidth":0.8},"encoding":{"x":{"datum":0,"axis":null},"x2":{"datum":100},"y":{"datum":0,"axis":null},"y2":{"datum":100},"opacity":{"condition":{"test":"isValid(datum.st)","value":1},"value":0}}},
{"mark":{"type":"text","fontSize":4,"baseline":"top","color":"#555555"},"encoding":{"x":{"field":"xt","type":"quantitative","axis":null},"y":{"datum":-2.2,"axis":null},"text":{"field":"xl"},"opacity":{"condition":{"test":"isValid(datum.xt)","value":1},"value":0}}},
{"mark":{"type":"text","fontSize":4,"align":"right","baseline":"middle","color":"#555555"},"encoding":{"y":{"field":"yt","type":"quantitative","axis":null},"x":{"datum":-1.5,"axis":null},"text":{"field":"yl"},"opacity":{"condition":{"test":"isValid(datum.yt)","value":1},"value":0}}},
{"mark":{"type":"text","text":"✱","fontSize":28,"color":"#e8337f","baseline":"middle","align":"center"},"encoding":{"x":{"datum":90.5,"axis":null},"y":{"datum":89,"axis":null},"opacity":{"condition":{"test":"isValid(datum.st) && indexof(datum.st,'p')>=0","value":1},"value":0}}},
{"mark":{"type":"text","text":"✱","fontSize":28,"color":"#0a14f0","baseline":"middle","align":"center"},"encoding":{"x":{"datum":72,"axis":null},"y":{"datum":89,"axis":null},"opacity":{"condition":{"test":"isValid(datum.st) && indexof(datum.st,'b')>=0","value":1},"value":0}}}
]}},
{"data":{"name":"d"},"transform":[{"filter":"datum.t==='Buccal'"},{"flatten":["px","py","bx","blo","bhi","fx","fy","kx","ky","xt","xl","gx","yt","yl","gy","st"]}],
"bounds":"flush",
"facet":{"row":{"field":"m","type":"nominal","sort":["Observed","Faith's PD","Shannon","Simpson"],"title":null,"header":{"labels":false}},
"column":{"field":"s","type":"nominal","sort":["raw","log"],"title":"Buccal","header":{"labelExpr":"datum.label=='raw' ? 'raw' : 'log\u00a0\u00a0\u200b'"}}},
"spacing":{"row":0,"column":0},
"spec":{"width":161,"height":154,"layer":[
{"mark":{"type":"rule","color":"#f0f0f0","strokeWidth":0.6},"encoding":{"x":{"field":"gx","type":"quantitative","scale":{"domain":[-12.7,107.5],"nice":false,"zero":false},"axis":null},"y":{"datum":0,"scale":{"domain":[-9,106],"nice":false,"zero":false},"axis":null},"y2":{"datum":100},"opacity":{"condition":{"test":"isValid(datum.gx)","value":1},"value":0}}},
{"mark":{"type":"rule","color":"#f0f0f0","strokeWidth":0.6},"encoding":{"y":{"field":"gy","type":"quantitative","axis":null},"x":{"datum":0,"axis":null},"x2":{"datum":100},"opacity":{"condition":{"test":"isValid(datum.gy)","value":1},"value":0}}},
{"mark":{"type":"rule","color":"#e3e3e3","strokeWidth":1},"encoding":{"x":{"field":"xt","type":"quantitative","axis":null},"y":{"datum":0,"axis":null},"y2":{"datum":100},"opacity":{"condition":{"test":"isValid(datum.xt)","value":1},"value":0}}},
{"mark":{"type":"rule","color":"#e3e3e3","strokeWidth":1},"encoding":{"y":{"field":"yt","type":"quantitative","axis":null},"x":{"datum":0,"axis":null},"x2":{"datum":100},"opacity":{"condition":{"test":"isValid(datum.yt)","value":1},"value":0}}},
{"mark":{"type":"line","color":"#e6087f","strokeWidth":3.6},"encoding":{"x":{"field":"kx","type":"quantitative","axis":null},"y":{"field":"ky","type":"quantitative","axis":null}}},
{"mark":{"type":"area","color":"#999999","opacity":0.4,"interpolate":"monotone"},"encoding":{"x":{"field":"bx","type":"quantitative","axis":null},"y":{"field":"blo","type":"quantitative","axis":null},"y2":{"field":"bhi"}}},
{"mark":{"type":"line","color":"#3366ff","strokeWidth":1},"encoding":{"x":{"field":"fx","type":"quantitative","axis":null},"y":{"field":"fy","type":"quantitative","axis":null}}},
{"mark":{"type":"circle","size":4,"color":"black"},"encoding":{"x":{"field":"px","type":"quantitative","axis":null},"y":{"field":"py","type":"quantitative","axis":null},"opacity":{"condition":{"test":"isValid(datum.px)","value":1},"value":0}}},
{"mark":{"type":"rect","filled":false,"stroke":"#8c8c8c","strokeWidth":0.8},"encoding":{"x":{"datum":0,"axis":null},"x2":{"datum":100},"y":{"datum":0,"axis":null},"y2":{"datum":100},"opacity":{"condition":{"test":"isValid(datum.st)","value":1},"value":0}}},
{"mark":{"type":"text","fontSize":4,"baseline":"top","color":"#555555"},"encoding":{"x":{"field":"xt","type":"quantitative","axis":null},"y":{"datum":-2.2,"axis":null},"text":{"field":"xl"},"opacity":{"condition":{"test":"isValid(datum.xt)","value":1},"value":0}}},
{"mark":{"type":"text","fontSize":4,"align":"right","baseline":"middle","color":"#555555"},"encoding":{"y":{"field":"yt","type":"quantitative","axis":null},"x":{"datum":-1.5,"axis":null},"text":{"field":"yl"},"opacity":{"condition":{"test":"isValid(datum.yt)","value":1},"value":0}}},
{"mark":{"type":"text","text":"✱","fontSize":28,"color":"#e8337f","baseline":"middle","align":"center"},"encoding":{"x":{"datum":90.5,"axis":null},"y":{"datum":89,"axis":null},"opacity":{"condition":{"test":"isValid(datum.st) && indexof(datum.st,'p')>=0","value":1},"value":0}}}
]}},
{"data":{"name":"d"},"transform":[{"filter":"datum.t==='Intestine'"},{"flatten":["px","py","bx","blo","bhi","fx","fy","kx","ky","xt","xl","gx","yt","yl","gy","st"]}],
"bounds":"flush",
"facet":{"row":{"field":"m","type":"nominal","sort":["Observed","Faith's PD","Shannon","Simpson"],"title":null,"header":{"labels":false}},
"column":{"field":"s","type":"nominal","sort":["raw","log"],"title":"Intestine","header":{"labelExpr":"datum.label=='raw' ? 'raw' : 'log\u00a0\u00a0\u00a0\u200b'"}}},
"spacing":{"row":0,"column":0},
"spec":{"width":161,"height":154,"layer":[
{"mark":{"type":"rule","color":"#f0f0f0","strokeWidth":0.6},"encoding":{"x":{"field":"gx","type":"quantitative","scale":{"domain":[-12.7,107.5],"nice":false,"zero":false},"axis":null},"y":{"datum":0,"scale":{"domain":[-9,106],"nice":false,"zero":false},"axis":null},"y2":{"datum":100},"opacity":{"condition":{"test":"isValid(datum.gx)","value":1},"value":0}}},
{"mark":{"type":"rule","color":"#f0f0f0","strokeWidth":0.6},"encoding":{"y":{"field":"gy","type":"quantitative","axis":null},"x":{"datum":0,"axis":null},"x2":{"datum":100},"opacity":{"condition":{"test":"isValid(datum.gy)","value":1},"value":0}}},
{"mark":{"type":"rule","color":"#e3e3e3","strokeWidth":1},"encoding":{"x":{"field":"xt","type":"quantitative","axis":null},"y":{"datum":0,"axis":null},"y2":{"datum":100},"opacity":{"condition":{"test":"isValid(datum.xt)","value":1},"value":0}}},
{"mark":{"type":"rule","color":"#e3e3e3","strokeWidth":1},"encoding":{"y":{"field":"yt","type":"quantitative","axis":null},"x":{"datum":0,"axis":null},"x2":{"datum":100},"opacity":{"condition":{"test":"isValid(datum.yt)","value":1},"value":0}}},
{"mark":{"type":"line","color":"#e6087f","strokeWidth":3.6},"encoding":{"x":{"field":"kx","type":"quantitative","axis":null},"y":{"field":"ky","type":"quantitative","axis":null}}},
{"mark":{"type":"area","color":"#999999","opacity":0.4,"interpolate":"monotone"},"encoding":{"x":{"field":"bx","type":"quantitative","axis":null},"y":{"field":"blo","type":"quantitative","axis":null},"y2":{"field":"bhi"}}},
{"mark":{"type":"line","color":"#3366ff","strokeWidth":1},"encoding":{"x":{"field":"fx","type":"quantitative","axis":null},"y":{"field":"fy","type":"quantitative","axis":null}}},
{"mark":{"type":"circle","size":4,"color":"black"},"encoding":{"x":{"field":"px","type":"quantitative","axis":null},"y":{"field":"py","type":"quantitative","axis":null},"opacity":{"condition":{"test":"isValid(datum.px)","value":1},"value":0}}},
{"mark":{"type":"rect","filled":false,"stroke":"#8c8c8c","strokeWidth":0.8},"encoding":{"x":{"datum":0,"axis":null},"x2":{"datum":100},"y":{"datum":0,"axis":null},"y2":{"datum":100},"opacity":{"condition":{"test":"isValid(datum.st)","value":1},"value":0}}},
{"mark":{"type":"text","fontSize":4,"baseline":"top","color":"#555555"},"encoding":{"x":{"field":"xt","type":"quantitative","axis":null},"y":{"datum":-2.2,"axis":null},"text":{"field":"xl"},"opacity":{"condition":{"test":"isValid(datum.xt)","value":1},"value":0}}},
{"mark":{"type":"text","fontSize":4,"align":"right","baseline":"middle","color":"#555555"},"encoding":{"y":{"field":"yt","type":"quantitative","axis":null},"x":{"datum":-1.5,"axis":null},"text":{"field":"yl"},"opacity":{"condition":{"test":"isValid(datum.yt)","value":1},"value":0}}}
]}},
{"data":{"name":"d"},"transform":[{"filter":"datum.t==='Cloaca'"},{"flatten":["px","py","bx","blo","bhi","fx","fy","kx","ky","xt","xl","gx","yt","yl","gy","st"]}],
"bounds":"flush",
"facet":{"row":{"field":"m","type":"nominal","sort":["Observed","Faith's PD","Shannon","Simpson"],"title":null,"header":{"labels":false}},
"column":{"field":"s","type":"nominal","sort":["raw","log"],"title":"\u00a0\u00a0Cloaca","header":{"labelExpr":"datum.label=='raw' ? '\u00a0\u00a0\u00a0\u00a0raw' : 'log'"}}},
"spacing":{"row":0,"column":0},
"spec":{"width":161,"height":154,"layer":[
{"mark":{"type":"rule","color":"#f0f0f0","strokeWidth":0.6},"encoding":{"x":{"field":"gx","type":"quantitative","scale":{"domain":[-12.7,107.5],"nice":false,"zero":false},"axis":null},"y":{"datum":0,"scale":{"domain":[-9,106],"nice":false,"zero":false},"axis":null},"y2":{"datum":100},"opacity":{"condition":{"test":"isValid(datum.gx)","value":1},"value":0}}},
{"mark":{"type":"rule","color":"#f0f0f0","strokeWidth":0.6},"encoding":{"y":{"field":"gy","type":"quantitative","axis":null},"x":{"datum":0,"axis":null},"x2":{"datum":100},"opacity":{"condition":{"test":"isValid(datum.gy)","value":1},"value":0}}},
{"mark":{"type":"rule","color":"#e3e3e3","strokeWidth":1},"encoding":{"x":{"field":"xt","type":"quantitative","axis":null},"y":{"datum":0,"axis":null},"y2":{"datum":100},"opacity":{"condition":{"test":"isValid(datum.xt)","value":1},"value":0}}},
{"mark":{"type":"rule","color":"#e3e3e3","strokeWidth":1},"encoding":{"y":{"field":"yt","type":"quantitative","axis":null},"x":{"datum":0,"axis":null},"x2":{"datum":100},"opacity":{"condition":{"test":"isValid(datum.yt)","value":1},"value":0}}},
{"mark":{"type":"line","color":"#e6087f","strokeWidth":3.6},"encoding":{"x":{"field":"kx","type":"quantitative","axis":null},"y":{"field":"ky","type":"quantitative","axis":null}}},
{"mark":{"type":"area","color":"#999999","opacity":0.4,"interpolate":"monotone"},"encoding":{"x":{"field":"bx","type":"quantitative","axis":null},"y":{"field":"blo","type":"quantitative","axis":null},"y2":{"field":"bhi"}}},
{"mark":{"type":"line","color":"#3366ff","strokeWidth":1},"encoding":{"x":{"field":"fx","type":"quantitative","axis":null},"y":{"field":"fy","type":"quantitative","axis":null}}},
{"mark":{"type":"circle","size":4,"color":"black"},"encoding":{"x":{"field":"px","type":"quantitative","axis":null},"y":{"field":"py","type":"quantitative","axis":null},"opacity":{"condition":{"test":"isValid(datum.px)","value":1},"value":0}}},
{"mark":{"type":"rect","filled":false,"stroke":"#8c8c8c","strokeWidth":0.8},"encoding":{"x":{"datum":0,"axis":null},"x2":{"datum":100},"y":{"datum":0,"axis":null},"y2":{"datum":100},"opacity":{"condition":{"test":"isValid(datum.st)","value":1},"value":0}}},
{"mark":{"type":"text","fontSize":4,"baseline":"top","color":"#555555"},"encoding":{"x":{"field":"xt","type":"quantitative","axis":null},"y":{"datum":-2.2,"axis":null},"text":{"field":"xl"},"opacity":{"condition":{"test":"isValid(datum.xt)","value":1},"value":0}}},
{"mark":{"type":"text","fontSize":4,"align":"right","baseline":"middle","color":"#555555"},"encoding":{"y":{"field":"yt","type":"quantitative","axis":null},"x":{"datum":-1.5,"axis":null},"text":{"field":"yl"},"opacity":{"condition":{"test":"isValid(datum.yt)","value":1},"value":0}}},
{"mark":{"type":"text","text":"✱","fontSize":28,"color":"#e8337f","baseline":"middle","align":"center"},"encoding":{"x":{"datum":90.5,"axis":null},"y":{"datum":89,"axis":null},"opacity":{"condition":{"test":"isValid(datum.st) && indexof(datum.st,'p')>=0","value":1},"value":0}}}
]}}
]
}
